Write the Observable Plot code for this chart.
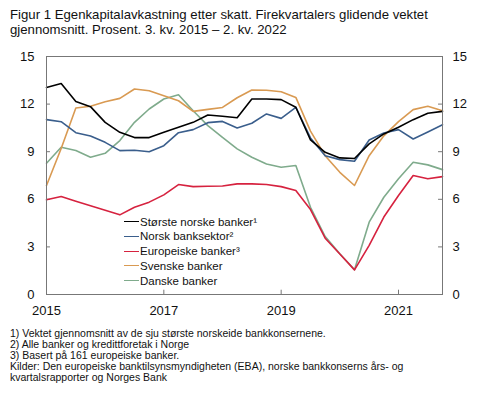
<!DOCTYPE html>
<html><head><meta charset="utf-8">
<script src="https://cdn.jsdelivr.net/npm/d3@7"></script>
<script src="https://cdn.jsdelivr.net/npm/@observablehq/plot@0.6"></script>
<style>
body{margin:0;width:480px;height:395px;position:relative;font-family:"Liberation Sans",Arial,sans-serif;background:#fff;overflow:hidden;color:#111}
#title{position:absolute;left:10px;top:7px;font-size:13.2px;line-height:15px;white-space:nowrap}
#chart{position:absolute;left:0;top:40px}
#legend{position:absolute;left:124px;top:214.3px;font-size:11.5px}
.row{height:14.75px;display:flex;align-items:center;white-space:nowrap}
.sw{width:15px;height:0;border-top:1.6px solid;margin-right:1px}
#notes{position:absolute;left:10px;top:328px;font-size:10.5px;line-height:10.9px;white-space:nowrap}
</style></head>
<body>
<div id="title">Figur 1 Egenkapitalavkastning etter skatt. Firekvartalers glidende vektet<br>gjennomsnitt. Prosent. 3. kv. 2015 – 2. kv. 2022</div>
<div id="chart"></div>
<div id="legend"></div>
<div id="notes">1) Vektet gjennomsnitt av de sju største norskeide bankkonsernene.<br>2) Alle banker og kredittforetak i Norge<br>3) Basert på 161 europeiske banker.<br>Kilder: Den europeiske banktilsynsmyndigheten (EBA), norske bankkonserns års- og<br>kvartalsrapporter og Norges Bank</div>
<script>
const quarters = ["2015K3","2015K4","2016K1","2016K2","2016K3","2016K4","2017K1","2017K2","2017K3","2017K4",
  "2018K1","2018K2","2018K3","2018K4","2019K1","2019K2","2019K3","2019K4","2020K1","2020K2",
  "2020K3","2020K4","2021K1","2021K2","2021K3","2021K4","2022K1","2022K2"];
const tickQuarters = ["2015K3","2017K3","2019K3","2021K3"];
const yTicks = [0,3,6,9,12,15];

const storsteNorske = [13.05,13.3,12.17,11.84,10.85,10.22,9.89,9.89,10.22,10.54,10.85,11.31,11.23,11.14,12.32,12.32,12.28,11.8,9.74,8.96,8.61,8.57,9.49,10.12,10.54,11.02,11.42,11.54];
const norskBanksektor = [11.02,10.89,10.2,9.99,9.59,9.07,9.09,9.0,9.38,10.2,10.39,10.83,10.91,10.5,10.79,11.38,11.1,11.8,9.87,8.75,8.5,8.4,9.74,10.18,10.39,9.8,10.24,10.7];
const europeiske = [5.97,6.18,5.88,5.59,5.31,5.02,5.5,5.82,6.28,6.93,6.8,6.82,6.84,6.97,6.97,6.93,6.8,6.55,5.35,3.55,2.55,1.55,3.1,4.88,6.24,7.5,7.29,7.43];
const svenske = [6.87,9.2,11.75,11.86,12.15,12.36,12.95,12.84,12.53,12.21,11.54,11.67,11.79,12.4,12.89,12.87,12.78,12.42,10.3,8.75,7.7,6.87,8.75,10.0,10.9,11.65,11.86,11.58];
const danske = [8.27,9.28,9.07,8.65,8.9,9.7,10.85,11.69,12.32,12.59,11.58,10.64,9.91,9.18,8.65,8.23,8.02,8.13,5.5,3.65,2.57,1.56,4.56,6.13,7.3,8.33,8.17,7.87];

const series = [
  {name:"Største norske banker¹", values:storsteNorske, color:"#000000"},
  {name:"Norsk banksektor²", values:norskBanksektor, color:"#3a5e8c"},
  {name:"Europeiske banker³", values:europeiske, color:"#d6223f"},
  {name:"Svenske banker", values:svenske, color:"#d99a52"},
  {name:"Danske banker", values:danske, color:"#7fab8c"}
];
const drawOrder = [4,3,2,1,0];

const tickIdx = tickQuarters.map(q => quarters.indexOf(q));
const last = quarters.length - 1;

const lineMarks = drawOrder.map(k => {
  const s = series[k];
  const rows = s.values.map((v,i) => ({i, v}));
  return Plot.line(rows, {x:"i", y:"v", stroke:s.color, strokeWidth:1.6});
});

const plot = Plot.plot({
  width:480, height:280,
  marginTop:16, marginBottom:26, marginLeft:46, marginRight:38,
  x:{domain:[0,last]},
  y:{domain:[0,15]},
  style:{fontFamily:"'Liberation Sans', Arial, sans-serif", fontSize:"13px", color:"#111", background:"transparent"},
  marks:[
    Plot.ruleY(yTicks, {y:d=>d, x1:0, x2:0.27, stroke:"#777"}),
    Plot.ruleY(yTicks, {y:d=>d, x1:last-0.27, x2:last, stroke:"#777"}),
    Plot.ruleX(tickIdx, {x:d=>d, y1:0, y2:0.27, stroke:"#777"}),
    Plot.axisY({anchor:"left", ticks:yTicks, tickSize:0, tickPadding:12, label:null}),
    Plot.axisY({anchor:"right", ticks:yTicks, tickSize:0, tickPadding:10, label:null}),
    Plot.axisX({ticks:tickIdx, tickSize:0, tickPadding:11, tickFormat:i => quarters[i].slice(0,4), label:null}),
    ...lineMarks,
    Plot.frame({stroke:"#777"})
  ]
});
document.getElementById("chart").appendChild(plot);

const legend = document.getElementById("legend");
series.forEach(s => {
  const row = document.createElement("div");
  row.className = "row";
  const sw = document.createElement("span");
  sw.className = "sw";
  sw.style.borderTopColor = s.color;
  const t = document.createElement("span");
  t.textContent = s.name;
  row.appendChild(sw); row.appendChild(t);
  legend.appendChild(row);
});
</script>
</body></html>
